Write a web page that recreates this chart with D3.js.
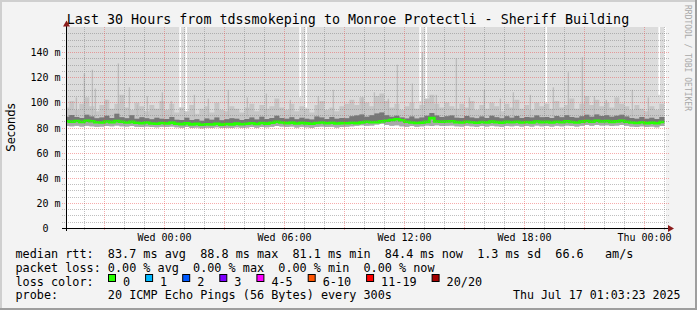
<!doctype html>
<html>
  <head>
    <meta charset="utf-8">
    <title>Last 30 Hours from tdssmokeping to Monroe Protectli - Sheriff Building</title>
    <style>
      body { margin: 0; background: #f3f3f3; }
      svg text { white-space: pre; font-family: 'DejaVu Sans Mono', monospace; }
    </style>
    <script src="https://cdnjs.cloudflare.com/ajax/libs/d3/7.8.5/d3.min.js"></script>
  </head>
  <body>
    <div id="chart"></div>
    <script>
      // round trip times in ms, one value per 15 minute step starting Tue 19:00
      const median = [
        85.0, 84.6, 85.2, 84.4, 85.4, 85.0, 84.2,
        84.0, 84.8, 84.3, 85.1, 84.6, 84.0, 84.5, 83.8, 83.4, 84.0, 83.2, 83.0, 83.6,
        83.2, 83.9, 83.0, 82.7, 83.3, 82.5, 82.9, 82.2, 82.6, 82.4, 83.0, 82.3, 82.8, 82.5, 83.1, 82.6,
        83.0, 83.4, 82.8, 83.6, 83.1, 83.8, 84.6, 84.0, 83.5, 83.9, 83.2, 83.7, 83.3, 83.0, 83.6, 84.0, 83.4, 83.8, 83.2, 83.5,
        83.4, 83.8, 83.5, 84.1, 84.6, 84.2, 84.3, 84.9, 85.4, 86.0, 86.6, 85.8, 84.6, 84.0, 83.6, 83.9, 84.5, 87.5, 84.8, 84.6,
        84.8, 85.0, 84.3, 84.0, 84.6, 84.2, 83.8, 84.4, 84.1, 84.7, 84.3, 83.9, 84.5, 84.2, 84.6, 84.0, 84.4, 84.1, 84.8, 84.3,
        84.5, 84.0, 84.6, 84.2, 84.9, 84.4, 84.0, 84.7, 85.2, 84.6, 85.4, 84.8, 85.1, 84.5, 84.9, 85.3, 84.6, 84.0, 83.6, 84.2, 83.5, 83.9, 83.4, 84.4
      ];
      // fastest ping of each step
      const pingMin = [
        81.2, 80.9, 81.4, 80.7, 81.3, 81.0, 80.6, 80.8, 81.2, 80.9, 81.5, 81.0, 80.7, 81.1, 80.6, 80.4, 80.8, 80.3, 80.2, 80.6,
        80.4, 80.7, 80.1, 79.9, 80.3, 79.7, 80.0, 79.5, 79.8, 79.6, 80.1, 79.6, 79.9, 79.7, 80.2, 79.8, 80.0, 80.3, 79.9, 80.4,
        80.1, 80.6, 81.2, 80.8, 80.4, 80.7, 80.0, 80.5, 80.2, 79.9, 80.4, 80.8, 80.3, 80.6, 80.0, 80.3, 80.5, 81.0, 81.4, 81.8,
        81.3, 81.6, 82.4, 82.9, 82.0, 81.4, 81.7, 81.0, 80.6, 81.2, 80.5, 80.9, 81.5, 81.1, 81.8, 81.2, 81.4, 81.6, 81.0, 80.8,
        81.3, 80.9, 80.5, 81.1, 80.8, 81.4, 81.0, 80.6, 81.2, 80.9, 81.3, 80.7, 81.1, 80.8, 81.5, 81.0, 81.2, 80.7, 81.3, 80.9,
        81.6, 81.1, 80.7, 81.4, 81.9, 81.3, 82.0, 81.5, 81.8, 81.2, 81.6, 82.0, 81.3, 80.8, 80.4, 81.0, 80.3, 80.7, 80.2, 81.1
      ];
      // upper edge of the dense smoke
      const pingQ3 = [
        88.6, 89.9, 88.4, 87.5, 90.2, 88.8, 87.3,
        87.9, 89.4, 87.6, 91.0, 88.2, 87.4, 89.8, 86.9, 88.1, 87.3, 86.5, 87.8, 86.9,
        86.8, 88.3, 86.2, 85.9, 87.7, 86.0, 86.6, 85.4, 87.2, 86.1, 88.0, 85.8, 86.5, 87.4, 86.9, 85.9,
        86.7, 87.9, 86.4, 88.6, 86.8, 87.5, 89.3, 87.6, 86.9, 88.2, 86.6, 87.8, 86.9, 86.4, 88.7, 87.9, 86.8, 88.4, 86.9, 87.6,
        87.4, 88.9, 89.6, 90.4, 88.5, 89.8, 91.2, 91.9, 89.7, 88.6, 89.3, 87.9, 87.2, 88.8, 87.1, 88.0, 89.4, 91.5, 89.6, 88.4,
        88.9, 89.6, 87.8, 87.5, 89.1, 88.0, 87.3, 88.7, 87.6, 89.4, 88.1, 87.4, 88.9, 87.8, 89.2, 87.5, 88.3, 87.9, 89.5, 88.2,
        88.4, 87.6, 89.2, 88.1, 89.7, 88.3, 87.7, 89.0, 90.1, 88.6, 90.4, 89.1, 89.8, 88.5, 89.3, 90.2, 88.7, 87.6, 87.0, 88.4, 86.9, 87.8, 86.8, 88.3
      ];
      // upper edge of the lighter smoke
      const pingP90 = [
        96, 101, 94, 99, 104, 97, 93, 98, 102, 95, 99, 106, 96, 94, 100, 97, 93, 98, 95, 101,
        94, 99, 92, 96, 93, 98, 91, 95, 97, 92, 100, 94, 93, 97, 95, 92, 96, 99, 93, 98,
        95, 97, 103, 96, 94, 99, 93, 97, 95, 92, 98, 101, 94, 96, 93, 97, 99, 102, 98, 104,
        100, 97, 105, 107, 101, 96, 99, 94, 97, 100, 95, 98, 103, 106, 99, 96, 100, 97, 95, 99,
        96, 101, 94, 98, 95, 100, 97, 93, 99, 96, 102, 95, 98, 94, 100, 97, 99, 95, 101, 96,
        98, 103, 95, 99, 105, 98, 102, 97, 100, 96, 104, 99, 97, 94, 98, 95, 93, 97, 94, 99
      ];
      // single slow pings [time, ms]
      const spikes = [
        ["2025-07-15T19:36", 104], ["2025-07-15T20:00", 123], ["2025-07-15T20:24", 126],
        ["2025-07-15T20:33", 111], ["2025-07-15T21:06", 102], ["2025-07-15T21:42", 131],
        ["2025-07-15T22:15", 112], ["2025-07-15T22:39", 98], ["2025-07-15T23:09", 105],
        ["2025-07-15T23:54", 108], ["2025-07-16T00:21", 101], ["2025-07-16T01:30", 106],
        ["2025-07-16T02:12", 103], ["2025-07-16T03:12", 110], ["2025-07-16T04:09", 104],
        ["2025-07-16T05:06", 107], ["2025-07-16T06:18", 102], ["2025-07-16T07:42", 105],
        ["2025-07-16T08:27", 110], ["2025-07-16T09:54", 104], ["2025-07-16T10:30", 108],
        ["2025-07-16T11:12", 103], ["2025-07-16T11:39", 130], ["2025-07-16T12:24", 115],
        ["2025-07-16T12:54", 140], ["2025-07-16T13:36", 106], ["2025-07-16T14:36", 135],
        ["2025-07-16T15:15", 104], ["2025-07-16T16:00", 110], ["2025-07-16T16:48", 103],
        ["2025-07-16T17:27", 108], ["2025-07-16T18:18", 106], ["2025-07-16T19:27", 112],
        ["2025-07-16T20:12", 124], ["2025-07-16T20:54", 136], ["2025-07-16T21:30", 105],
        ["2025-07-16T22:06", 102], ["2025-07-16T23:24", 110], ["2025-07-17T00:12", 104]
      ];
      // steps whose slowest ping stayed below the top of the chart [time, ms]
      const maxGaps = [
        ["2025-07-16T00:45", 96], ["2025-07-16T01:03", 92], ["2025-07-16T06:45", 104],
        ["2025-07-16T07:03", 96], ["2025-07-16T12:45", 101], ["2025-07-16T13:03", 100],
        ["2025-07-16T19:03", 100], ["2025-07-17T00:42", 106], ["2025-07-17T01:00", 104]
      ];
      const yTicks = [0, 20, 40, 60, 80, 100, 120, 140];
      const yTickLabels = ["0  ", "20 m", "40 m", "60 m", "80 m", "100 m", "120 m", "140 m"];
      const xTicks = ["2025-07-16T00:00", "2025-07-16T06:00", "2025-07-16T12:00", "2025-07-16T18:00", "2025-07-17T00:00"];
      const xTickLabels = ["Wed 00:00", "Wed 06:00", "Wed 12:00", "Wed 18:00", "Thu 00:00"];
      const lossLabels = ["0", "1", "2", "3", "4-5", "6-10", "11-19", "20/20"];
      const lossColors = ["#26ff00", "#00b8ff", "#0059ff", "#7e00ff", "#ff00ff", "#ff5500", "#ff0000", "#a10000"];
      const statLines = [
        "median rtt:  83.7 ms avg  88.8 ms max  81.1 ms min  84.4 ms now  1.3 ms sd  66.6   am/s",
        "packet loss: 0.00 % avg  0.00 % max  0.00 % min  0.00 % now",
        "loss color:",
        "probe:       20 ICMP Echo Pings (56 Bytes) every 300s"
      ];
      const stamp = "Thu Jul 17 01:03:23 2025";

      const W = 697, H = 310;
      const plotLeft = 65.5, plotTop = 27, plotBottom = 228, plotWidth = 600;
      const parse = d3.timeParse("%Y-%m-%dT%H:%M");

      const svg = d3.select('#chart').append('svg')
        .attr('width', W)
        .attr('height', H);

      const x = d3.scaleTime()
        .domain([new Date(2025, 6, 15, 19, 3, 23), new Date(2025, 6, 17, 1, 3, 23)])
        .range([plotLeft, plotLeft + plotWidth]);
      const y = d3.scaleLinear().domain([0, 160]).range([plotBottom, plotTop]);

      // frame
      svg.append('rect').attr('width', W).attr('height', H).attr('fill', '#f3f3f3');
      svg.append('rect').attr('width', W).attr('height', 2).attr('fill', '#cfcfcf');
      svg.append('rect').attr('width', 2).attr('height', H).attr('fill', '#cfcfcf');
      svg.append('rect').attr('y', H - 2).attr('width', W).attr('height', 2).attr('fill', '#9e9e9e');
      svg.append('rect').attr('x', W - 2).attr('width', 2).attr('height', H).attr('fill', '#9e9e9e');
      svg.append('rect').attr('x', 66).attr('y', plotTop).attr('width', plotWidth).attr('height', plotBottom - plotTop).attr('fill', '#fff');

      svg.append('clipPath').attr('id', 'plot-clip')
        .append('rect').attr('x', 66).attr('y', plotTop).attr('width', plotWidth).attr('height', plotBottom - plotTop);

      const stepStart = new Date(2025, 6, 15, 19, 0);
      const stepTime = i => d3.timeMinute.offset(stepStart, 15 * i);
      const rows = median.map((m, i) => ({ t: stepTime(i), med: m, min: pingMin[i], q3: pingQ3[i], p90: pingP90[i] }));
      rows.push({ ...rows[rows.length - 1], t: stepTime(rows.length) });

      const g = svg.append('g').attr('clip-path', 'url(#plot-clip)');

      const band = (lo, hi) => d3.area()
        .curve(d3.curveStepAfter)
        .x(d => x(d.t))
        .y0(d => y(lo(d)))
        .y1(d => y(hi(d)));

      g.append('path').datum(rows).attr('fill', '#dcdcdc').attr('d', band(d => d.min, () => 160));

      g.selectAll('rect.gap').data(maxGaps).join('rect')
        .attr('class', 'gap')
        .attr('x', d => x(parse(d[0])))
        .attr('y', plotTop)
        .attr('width', 1.6)
        .attr('height', d => y(d[1]) - plotTop)
        .attr('fill', '#fff');

      g.append('path').datum(rows).attr('fill', '#c6c6c6').attr('d', band(d => d.min, d => d.p90));

      g.selectAll('line.spike').data(spikes).join('line')
        .attr('class', 'spike')
        .attr('x1', d => x(parse(d[0])))
        .attr('x2', d => x(parse(d[0])))
        .attr('y1', y(88))
        .attr('y2', d => y(d[1]))
        .attr('stroke', '#bdbdbd')
        .attr('stroke-width', 1.4);

      g.append('path').datum(rows).attr('fill', '#a8a8a8').attr('d', band(d => d.min, d => d.q3));
      g.append('path').datum(rows).attr('fill', '#777').attr('d', band(d => d.med, d => d.q3));

      // grid
      const grid = svg.append('g').attr('stroke-dasharray', '1,1');
      const minorY = d3.range(5, 160, 5).filter(v => v % 20 !== 0);
      grid.selectAll('line.minor-y').data(minorY).join('line')
        .attr('x1', 62).attr('x2', 669)
        .attr('y1', d => Math.round(y(d)) + 0.5).attr('y2', d => Math.round(y(d)) + 0.5)
        .attr('stroke', 'rgba(128,128,128,0.5)');
      const hours = d3.timeHour.range(x.domain()[0], x.domain()[1]);
      grid.selectAll('line.minor-x').data(hours.filter(h => h.getHours() % 3 !== 0)).join('line')
        .attr('x1', d => Math.floor(x(d)) + 0.5).attr('x2', d => Math.floor(x(d)) + 0.5)
        .attr('y1', plotTop).attr('y2', 231)
        .attr('stroke', 'rgba(128,128,128,0.5)');
      grid.selectAll('line.major-y').data(yTicks.slice(1)).join('line')
        .attr('x1', 62).attr('x2', 669)
        .attr('y1', d => Math.round(y(d)) + 0.5).attr('y2', d => Math.round(y(d)) + 0.5)
        .attr('stroke', 'rgba(235,70,70,0.45)');
      grid.selectAll('line.major-x').data(hours.filter(h => h.getHours() % 3 === 0)).join('line')
        .attr('x1', d => Math.floor(x(d)) + 0.5).attr('x2', d => Math.floor(x(d)) + 0.5)
        .attr('y1', plotTop).attr('y2', 231)
        .attr('stroke', 'rgba(235,70,70,0.45)');

      // median line
      g.append('path').datum(rows)
        .attr('fill', 'none')
        .attr('stroke', lossColors[0])
        .attr('stroke-width', 2.6)
        .attr('d', d3.line().curve(d3.curveStepAfter).x(d => x(d.t)).y(d => y(d.med)));

      // axes
      svg.append('line').attr('x1', 66.5).attr('x2', 66.5).attr('y1', 231).attr('y2', 23).attr('stroke', '#000');
      svg.append('line').attr('x1', 62).attr('x2', 669).attr('y1', 228.5).attr('y2', 228.5).attr('stroke', '#000');
      svg.append('path').attr('d', 'M63,26.5L70,26.5L66.5,20.5Z').attr('fill', '#8b1c1c');
      svg.append('path').attr('d', 'M668,225L668,232L674,228.5Z').attr('fill', '#8b1c1c');

      svg.selectAll('text.ylab').data(yTicks).join('text')
        .attr('class', 'ylab')
        .attr('x', 60.5)
        .attr('y', d => Math.round(y(d)) + 4)
        .attr('text-anchor', 'end')
        .attr('font-size', 10)
        .text((d, i) => yTickLabels[i]);

      svg.selectAll('text.xlab').data(xTicks).join('text')
        .attr('class', 'xlab')
        .attr('x', d => Math.floor(x(parse(d))) + 0.5)
        .attr('y', 241)
        .attr('text-anchor', 'middle')
        .attr('font-size', 10)
        .text((d, i) => xTickLabels[i]);

      svg.append('text')
        .attr('x', 348).attr('y', 23.5)
        .attr('text-anchor', 'middle')
        .attr('font-size', 13.35)
        .text('Last 30 Hours from tdssmokeping to Monroe Protectli - Sheriff Building');

      svg.append('text')
        .attr('transform', 'translate(15,127.5) rotate(-90)')
        .attr('text-anchor', 'middle')
        .style('font-family', "'DejaVu Sans', sans-serif")
        .attr('font-size', 11.5)
        .text('Seconds');

      svg.append('text')
        .attr('transform', 'translate(685,5) rotate(90)')
        .attr('font-size', 8)
        .attr('fill', '#a8a8a8')
        .text('RRDTOOL / TOBI OETIKER');

      // legend
      const lineY = [258, 271.8, 285.5, 299.3];
      svg.selectAll('text.stat').data(statLines).join('text')
        .attr('class', 'stat')
        .attr('x', 15.5)
        .attr('y', (d, i) => lineY[i])
        .attr('font-size', 11.8)
        .text(d => d);
      svg.append('text')
        .attr('x', 680.5).attr('y', lineY[3])
        .attr('text-anchor', 'end')
        .attr('font-size', 11.6)
        .text(stamp);

      let bx = 108;
      lossLabels.forEach((lab, i) => {
        svg.append('rect')
          .attr('x', bx + 0.5).attr('y', 274.5)
          .attr('width', 7).attr('height', 7)
          .attr('fill', lossColors[i])
          .attr('stroke', '#000');
        svg.append('text')
          .attr('x', bx + 15).attr('y', lineY[2])
          .attr('font-size', 11.8)
          .text(lab);
        bx += 15 + lab.length * 7.1 + 15;
      });
    </script>
  </body>
</html>
